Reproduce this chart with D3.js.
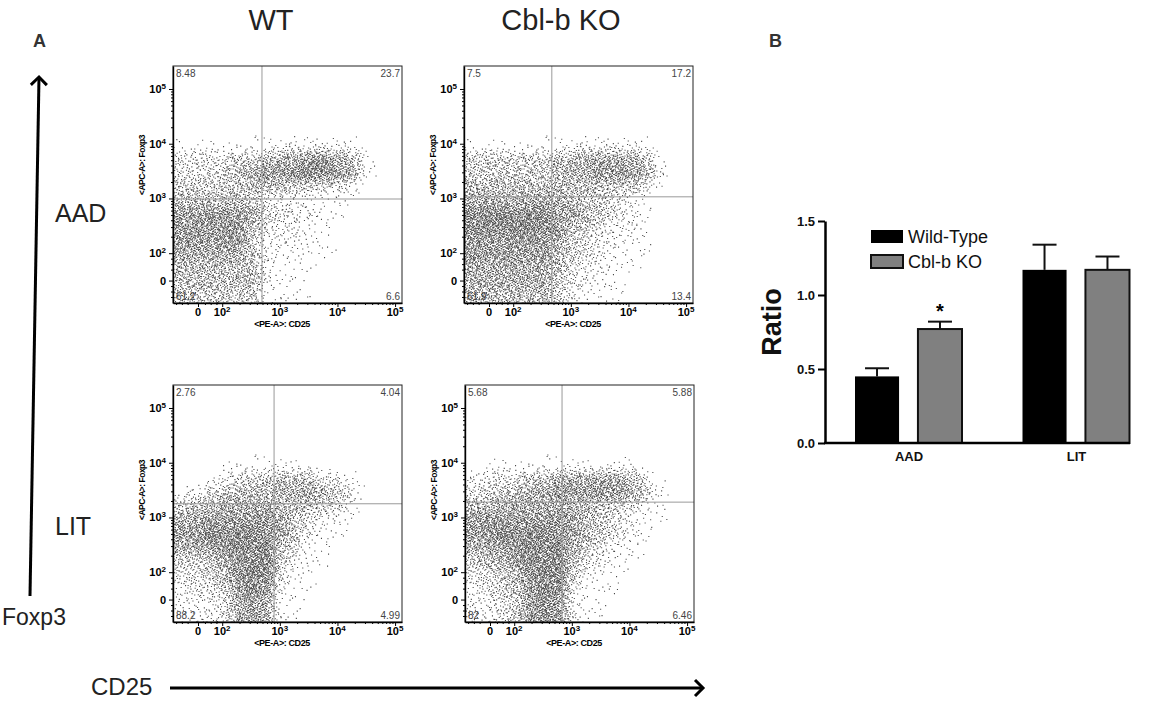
<!DOCTYPE html>
<html><head><meta charset="utf-8">
<script src="https://cdn.jsdelivr.net/npm/d3@7"></script>
<style>
body{margin:0;background:#fff}
svg{display:block;font-family:Arial,"Liberation Sans",sans-serif}
</style>
</head><body>
<svg id="fig" width="1166" height="701"></svg>
<script>
// ---- panel A: flow plots (WT AAD, KO AAD, WT LIT, KO LIT) ----
var colTitles = ["WT", "Cbl-b KO"];
var rowTitles = ["AAD", "LIT"];
var quadUL = ["8.48", "7.5", "2.76", "5.68"];
var quadUR = ["23.7", "17.2", "4.04", "5.88"];
var quadLL = ["61.2", "61.9", "88.2", "82"];
var quadLR = ["6.6", "13.4", "4.99", "6.46"];
// gate positions in log10 display units
var gateCD25 = [2.69, 2.67, 2.90, 2.83];
var gateFoxp3 = [2.99, 3.03, 3.25, 3.28];
// axis ticks (display units) and labels
var xTickVals = [1.58, 2, 3, 4, 5];
var yTickVals = [1.5, 2, 3, 4, 5];
var tickBase = ["0", "10", "10", "10", "10"];
var tickSup = ["", "2", "3", "4", "5"];

// event density, 0-9, 0.25-decade cells
// rows top (high Foxp3) -> bottom, cols left (low CD25) -> right
var densWtAad = [
"0000000000000000","0000000000000000","0000000000000000","0000000000000000",
"0000000000000000","1111111222221000","3333445667765100","3334567788876100",
"4444455544332000","5555542221110000","7777764322110000","7777753221100000",
"7777742221100000","6666642111100000","5555552111000000","5555552110000000",
"4444441111000000"];
var densKoAad = [
"0000000000000000","0000000000000000","0000000000000000","0000000000000000",
"0000000000000000","1111111222221000","4444445566665100","4444445667776200",
"5555555555443100","6666666544321000","8888887654321000","8888887543221000",
"7777776432211000","7777775432111000","6666665322110000","6666664321100000",
"5555554211100000"];
var densWtLit = [
"0000000000000000","0000000000000000","0000000000000000","0000000000000000",
"0000000000000000","0001111111000000","0012344554321000","1234555666542000",
"4556666555431000","6677777643211000","7788888642110000","6677888531100000",
"4456788421100000","3345888311000000","2334787211000000","2223676110000000",
"1223676110000000"];
var densKoLit = [
"0000000000000000","0000000000000000","0000000000000000","0000000000000000",
"0000000000000000","0111111111110000","2233456666653000","3445667777764100",
"5566666655432100","7777777654321100","7788888654321000","6677888643211000",
"4567888532110000","3345888421100000","2345788311100000","2234787211000000",
"2234787211000000"];

// ---- panel B: bar chart ----
var groups = ["AAD", "LIT"];
var series = ["Wild-Type", "Cbl-b KO"];
var wtRatio = [0.45, 1.17];
var wtErr = [0.055, 0.17];
var koRatio = [0.77, 1.17];
var koErr = [0.05, 0.09];
var yTicksB = [0, 0.5, 1.0, 1.5];

var svg = d3.select("#fig");

// letters
svg.append("text").attr("x", 33).attr("y", 47).attr("font-size", 18).attr("font-weight", "bold").attr("fill", "#333").text("A");
svg.append("text").attr("x", 769).attr("y", 47).attr("font-size", 18).attr("font-weight", "bold").attr("fill", "#333").text("B");

// column / row titles
svg.selectAll(".ctitle").data(colTitles).enter().append("text")
  .attr("x", function(d, i) { return i == 0 ? 271 : 561; })
  .attr("y", 30).attr("text-anchor", "middle").attr("font-size", 29).attr("fill", "#222")
  .text(function(d) { return d; });
svg.selectAll(".rtitle").data(rowTitles).enter().append("text")
  .attr("x", 55).attr("y", function(d, i) { return i == 0 ? 222 : 535; })
  .attr("font-size", 25).attr("fill", "#222")
  .text(function(d) { return d; });

// big arrows
svg.append("defs").append("marker").attr("id", "chev")
  .attr("markerUnits", "userSpaceOnUse").attr("markerWidth", 20).attr("markerHeight", 20)
  .attr("refX", 10).attr("refY", 10).attr("orient", "auto").attr("viewBox", "0 0 20 20")
  .append("path").attr("d", "M2,2 L10,10 L2,18").attr("fill", "none").attr("stroke", "#000").attr("stroke-width", 3);
svg.append("line").attr("x1", 30).attr("y1", 596).attr("x2", 39).attr("y2", 77)
  .attr("stroke", "#000").attr("stroke-width", 3).attr("marker-end", "url(#chev)");
svg.append("line").attr("x1", 170).attr("y1", 688).attr("x2", 703).attr("y2", 688)
  .attr("stroke", "#000").attr("stroke-width", 3).attr("marker-end", "url(#chev)");
svg.append("text").attr("x", 2).attr("y", 625).attr("font-size", 23).attr("fill", "#222").text("Foxp3");
svg.append("text").attr("x", 91).attr("y", 695).attr("font-size", 24).attr("fill", "#222").text("CD25");

// flow panels
var W = 229, H = 237;
var panelLeft = [173, 464, 173, 465];
var panelTop = [66, 66, 385, 385];
var dens = [densWtAad, densKoAad, densWtLit, densKoLit];

var x = d3.scaleLinear().domain([1.146, 5.12]).range([0, W]);
var y = d3.scaleLinear().domain([1.09, 5.42]).range([H, 0]);

function densityAt(grid, u, v) {
  var fi = (u - 1.15) / 0.25 - 0.5, fj = (v - 1.1) / 0.25 - 0.5;
  fi = Math.max(0, Math.min(15, fi)); fj = Math.max(0, Math.min(16, fj));
  var i0 = Math.floor(fi), j0 = Math.floor(fj);
  var i1 = Math.min(i0 + 1, 15), j1 = Math.min(j0 + 1, 16);
  var tx = fi - i0, ty = fj - j0;
  function val(i, j) { return +grid[16 - j][i]; }
  return (val(i0, j0) * (1 - tx) + val(i1, j0) * tx) * (1 - ty) +
         (val(i0, j1) * (1 - tx) + val(i1, j1) * tx) * ty;
}

// stipple the density cells with a Halton (2,3,5) sample set
function halton(i, b) {
  var f = 1, r = 0;
  while (i > 0) { f /= b; r += f * (i % b); i = Math.floor(i / b); }
  return r;
}

var minorVals = [1.2, 1.3, 1.4, 1.7, 1.8, 1.9];
[2, 3, 4].forEach(function(dec) {
  for (var k = 2; k <= 9; k++) minorVals.push(dec + Math.log10(k));
});

for (var p = 0; p < 4; p++) {
  var g = svg.append("g").attr("transform", "translate(" + panelLeft[p] + "," + panelTop[p] + ")");
  g.append("clipPath").attr("id", "clip" + p).append("rect").attr("width", W).attr("height", H);

  // events
  var path = "";
  var N = 45000;
  for (var n = 1; n <= N; n++) {
    var px = halton(n, 2) * W, py = halton(n, 3) * H, t = halton(n, 5);
    var d = densityAt(dens[p], x.invert(px), y.invert(py)) / 9;
    if (t < Math.pow(d, 1.5) * 0.78) path += "M" + px.toFixed(1) + "," + py.toFixed(1) + "h1.1v1.1h-1.1z";
  }
  g.append("path").attr("clip-path", "url(#clip" + p + ")").attr("d", path)
    .attr("fill", "#4a4a4a");

  // gates
  g.append("line").attr("x1", x(gateCD25[p])).attr("x2", x(gateCD25[p])).attr("y1", 0).attr("y2", H)
    .attr("stroke", "#999").attr("stroke-width", 1);
  g.append("line").attr("y1", y(gateFoxp3[p])).attr("y2", y(gateFoxp3[p])).attr("x1", 0).attr("x2", W)
    .attr("stroke", "#999").attr("stroke-width", 1);

  g.append("rect").attr("width", W).attr("height", H).attr("fill", "none").attr("stroke", "#222").attr("stroke-width", 1);

  // axes
  g.append("g").attr("transform", "translate(0," + H + ")")
    .call(d3.axisBottom(x).tickValues(xTickVals).tickSize(4).tickSizeOuter(0).tickFormat(""));
  g.append("g").attr("transform", "translate(0," + H + ")")
    .call(d3.axisBottom(x).tickValues(minorVals).tickSize(2).tickSizeOuter(0).tickFormat(""))
    .select(".domain").remove();
  g.append("g")
    .call(d3.axisLeft(y).tickValues(yTickVals).tickSize(4).tickSizeOuter(0).tickFormat(""));
  g.append("g")
    .call(d3.axisLeft(y).tickValues(minorVals).tickSize(2).tickSizeOuter(0).tickFormat(""))
    .select(".domain").remove();
  g.selectAll(".domain").attr("stroke-width", 1.4);

  xTickVals.forEach(function(v, i) {
    var t = g.append("text").attr("x", x(v)).attr("y", H + 13).attr("text-anchor", "middle")
      .attr("font-size", 11).attr("font-weight", "bold").text(tickBase[i]);
    if (tickSup[i]) t.append("tspan").attr("dy", -4).attr("font-size", 8).text(tickSup[i]);
  });
  yTickVals.forEach(function(v, i) {
    var t = g.append("text").attr("x", -7).attr("y", y(v) + 4).attr("text-anchor", "end")
      .attr("font-size", 11).attr("font-weight", "bold").text(tickBase[i]);
    if (tickSup[i]) t.append("tspan").attr("dy", -4).attr("font-size", 8).text(tickSup[i]);
  });
  g.append("text").attr("x", 109).attr("y", H + 24).attr("text-anchor", "middle")
    .attr("font-size", 9).attr("font-weight", "bold").attr("letter-spacing", -0.4).text("<PE-A>: CD25");
  g.append("text").attr("transform", "translate(-28," + (p < 2 ? 99 : 105) + ") rotate(-90)")
    .attr("text-anchor", "middle").attr("font-size", 8.5).attr("font-weight", "bold").attr("letter-spacing", -0.5).text("<APC-A>: Foxp3");

  // quadrant values
  g.append("text").attr("x", 3).attr("y", 11).attr("font-size", 10).attr("fill", "#444").text(quadUL[p]);
  g.append("text").attr("x", W - 2).attr("y", 11).attr("text-anchor", "end").attr("font-size", 10).attr("fill", "#444").text(quadUR[p]);
  g.append("text").attr("x", 3).attr("y", H - 3).attr("font-size", 10).attr("fill", "#444").text(quadLL[p]);
  g.append("text").attr("x", W - 2).attr("y", H - 3).attr("text-anchor", "end").attr("font-size", 10).attr("fill", "#444").text(quadLR[p]);
}

// ---- bar chart ----
var yB = d3.scaleLinear().domain([0, 1.5]).range([443, 221]);
var xG = d3.scalePoint().domain(groups).range([908.5, 1076]);
var xS = d3.scaleBand().domain(series).range([-53.5, 53.5]).paddingInner(0.3);
var fills = ["#000", "#808080"];
var vals = [wtRatio, koRatio], errs = [wtErr, koErr];

var bars = svg.append("g");
series.forEach(function(s, si) {
  groups.forEach(function(gName, gi) {
    var bx = xG(gName) + xS(s), v = vals[si][gi], e = errs[si][gi];
    var cx = bx + xS.bandwidth() / 2;
    bars.append("line").attr("x1", cx).attr("x2", cx).attr("y1", yB(v)).attr("y2", yB(v + e))
      .attr("stroke", "#111").attr("stroke-width", 2);
    bars.append("line").attr("x1", cx - 12).attr("x2", cx + 12).attr("y1", yB(v + e)).attr("y2", yB(v + e))
      .attr("stroke", "#111").attr("stroke-width", 2);
    bars.append("rect").attr("x", bx).attr("y", yB(v)).attr("width", xS.bandwidth())
      .attr("height", yB(0) - yB(v)).attr("fill", fills[si])
      .attr("stroke", "#111").attr("stroke-width", si == 1 ? 2 : 0);
  });
});

var ax = svg.append("g").attr("transform", "translate(825,0)")
  .call(d3.axisLeft(yB).tickValues(yTicksB).tickFormat(d3.format(".1f")).tickSize(7).tickSizeOuter(0));
ax.selectAll("line").attr("stroke-width", 2);
ax.select(".domain").attr("stroke-width", 2.5);
ax.selectAll("text").attr("font-size", 13).attr("font-weight", "bold").attr("font-family", "Arial,'Liberation Sans',sans-serif").attr("fill", "#111");

svg.append("line").attr("x1", 824).attr("x2", 1130).attr("y1", 443).attr("y2", 443)
  .attr("stroke", "#000").attr("stroke-width", 2.5);
var bx2 = svg.append("g").attr("transform", "translate(0,446)")
  .call(d3.axisBottom(xG).tickSize(0).tickPadding(6));
bx2.select(".domain").remove();
bx2.selectAll("text").attr("font-size", 13).attr("font-weight", "bold").attr("font-family", "Arial,'Liberation Sans',sans-serif").attr("fill", "#111");

svg.append("text").attr("transform", "translate(781,322) rotate(-90)").attr("text-anchor", "middle")
  .attr("font-size", 27).attr("font-weight", "bold").attr("fill", "#111").text("Ratio");

svg.append("text").attr("x", xG("AAD") + xS("Cbl-b KO") + xS.bandwidth() / 2).attr("y", yB(koRatio[0] + koErr[0]) - 4)
  .attr("text-anchor", "middle").attr("font-size", 20).attr("font-weight", "bold").text("*");

// legend
series.forEach(function(s, i) {
  svg.append("rect").attr("x", 871).attr("y", 230 + i * 25).attr("width", 32).attr("height", 13)
    .attr("fill", fills[i]).attr("stroke", "#111").attr("stroke-width", i == 1 ? 2 : 0);
  svg.append("text").attr("x", 908).attr("y", 243 + i * 25).attr("font-size", 18).attr("fill", "#111").text(s);
});
</script>
</body></html>
